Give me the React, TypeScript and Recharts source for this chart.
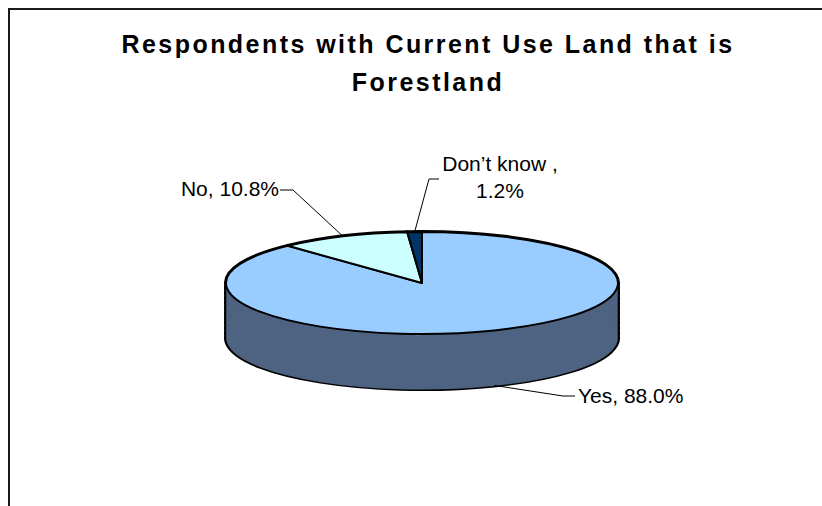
import React from "react";
import { PieChart, Pie, Cell } from "recharts";

const categories = ["Yes", "No", "Don\u2019t know "];
const shares = [88.0, 10.8, 1.2];
const topColors = ["#99CCFF", "#CCFFFF", "#003366"];
const sideColors = ["#4E6381", "#667F80", "#001A33"];

const TITLE_LINES = ["Respondents with Current Use Land that is", "Forestland"];

const data = categories.map((name, i) => ({ name, value: shares[i] }));

// tilted pie geometry (screen px)
const CX = 422;
const CY = 283;
const RX = 196;
const RY = 51;
const DEPTH = 55;
const K = RY / RX;
const SIDE_OFFSETS = Array.from({ length: 12 }, (_, i) => i * 5);

const FONT = "'Liberation Sans', Arial, sans-serif";

// where each leader line bends and where its text sits
const labelLayout = [
  { elbow: [563, 396], end: [575, 396], x: 578, y: 403, anchor: "start" },
  { elbow: [293, 190], end: [280, 190], x: 279, y: 196, anchor: "end" },
  { elbow: [429, 179], end: [439, 179], x: 500, y: 171, anchor: "middle" },
];

const css = `
.tilt .recharts-sector {
  transform: scale(1, ${K});
  vector-effect: non-scaling-stroke;
  stroke-linejoin: round;
}
`;

const renderLabel = (props: any) => {
  const { cx, cy, midAngle, outerRadius, index } = props;
  const a = (-midAngle * Math.PI) / 180;
  const sx = cx + outerRadius * Math.cos(a);
  let sy = cy * K + outerRadius * K * Math.sin(a);
  if (Math.sin(a) > 0.3) sy += DEPTH; // front slices: attach to lower rim
  const lay = labelLayout[index];
  const name = categories[index];
  const pct = `${shares[index].toFixed(1)}%`;
  const pts = `${sx},${sy} ${lay.elbow[0]},${lay.elbow[1]} ${lay.end[0]},${lay.end[1]}`;
  return (
    <g key={`lbl-${index}`}>
      <polyline points={pts} fill="none" stroke="#000" strokeWidth={1} />
      {index === 2 ? (
        <text x={lay.x} y={lay.y} textAnchor="middle" fontSize={21} fontFamily={FONT} fill="#000">
          <tspan x={lay.x}>{`${name},`}</tspan>
          <tspan x={lay.x} dy={27}>{pct}</tspan>
        </text>
      ) : (
        <text x={lay.x} y={lay.y} textAnchor={lay.anchor} fontSize={21} fontFamily={FONT} fill="#000">
          {`${name}, ${pct}`}
        </text>
      )}
    </g>
  );
};

export default function App() {
  return (
    <div style={{ position: "absolute", left: 0, top: 0, width: 822, height: 506, background: "#fff" }}>
      <style>{css}</style>
      <svg width={822} height={506} style={{ position: "absolute", left: 0, top: 0 }}>
        <path d="M9,506 L9,9 L822,9" fill="none" stroke="#1a1a1a" strokeWidth={2} />
        <text x={428} y={53} textAnchor="middle" fontSize={25} fontWeight="bold" fontFamily={FONT} letterSpacing={2.45}>
          {TITLE_LINES[0]}
        </text>
        <text x={428} y={91} textAnchor="middle" fontSize={25} fontWeight="bold" fontFamily={FONT} letterSpacing={2.45}>
          {TITLE_LINES[1]}
        </text>
      </svg>
      <div style={{ position: "absolute", left: 0, top: 0 }}>
        <PieChart width={822} height={506} margin={{ top: 0, right: 0, bottom: 0, left: 0 }}>
          {/* side wall outline: stroked copies, later covered by the fill copies */}
          {SIDE_OFFSETS.map((off) => (
            <Pie
              key={`ss-${off}`}
              className="tilt"
              data={data}
              dataKey="value"
              nameKey="name"
              cx={CX}
              cy={(CY + off) / K}
              outerRadius={RX}
              startAngle={90}
              endAngle={-270}
              stroke="#000"
              strokeWidth={4}
              isAnimationActive={false}
            >
              {data.map((d, i) => (
                <Cell key={`ssc-${i}`} fill={sideColors[i]} />
              ))}
            </Pie>
          ))}
          {/* side wall fill; the stroke hides the seams between slices */}
          {SIDE_OFFSETS.map((off) => (
            <Pie
              key={`sf-${off}`}
              className="tilt"
              data={data}
              dataKey="value"
              nameKey="name"
              cx={CX}
              cy={(CY + off) / K}
              outerRadius={RX - 1}
              startAngle={90}
              endAngle={-270}
              isAnimationActive={false}
            >
              {data.map((d, i) => (
                <Cell key={`sfc-${i}`} fill={sideColors[i]} stroke={sideColors[0]} strokeWidth={1.5} />
              ))}
            </Pie>
          ))}
          {/* top face */}
          <Pie
            className="tilt"
            data={data}
            dataKey="value"
            nameKey="name"
            cx={CX}
            cy={CY / K}
            outerRadius={RX}
            startAngle={90}
            endAngle={-270}
            stroke="#000"
            strokeWidth={2}
            label={renderLabel}
            labelLine={false}
            isAnimationActive={false}
          >
            {data.map((d, i) => (
              <Cell key={`tc-${i}`} fill={topColors[i]} />
            ))}
          </Pie>
        </PieChart>
      </div>
    </div>
  );
}
